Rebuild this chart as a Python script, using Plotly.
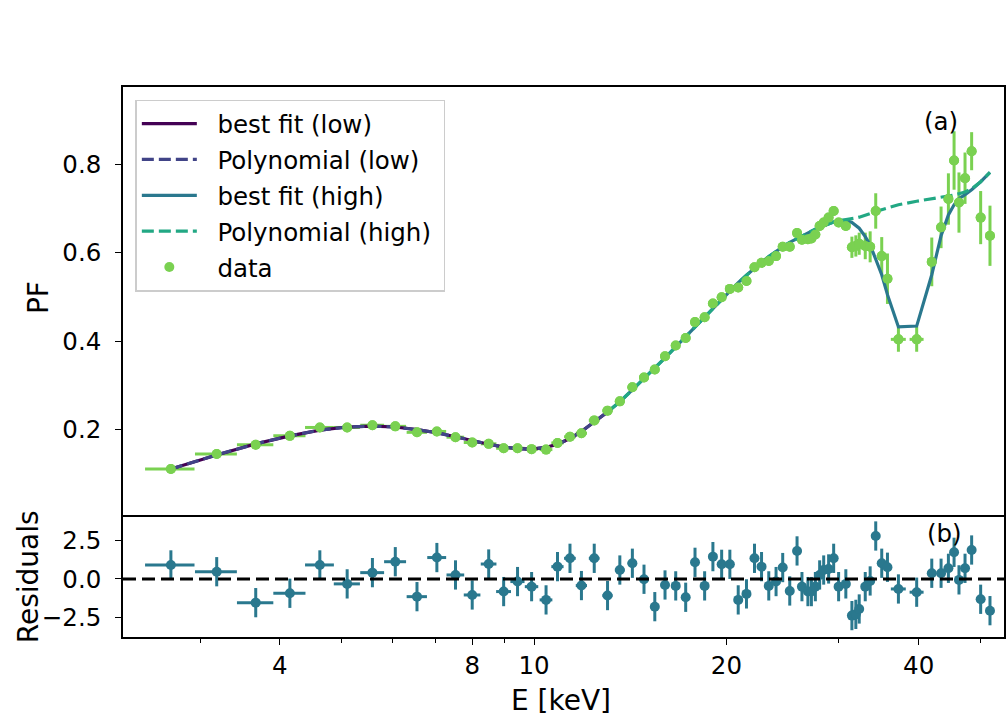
import plotly.graph_objects as go
from plotly.subplots import make_subplots

# ---------------- data ----------------
energy = [2.70, 3.185, 3.666, 4.146, 4.619, 5.097, 5.583, 6.063, 6.556, 7.043,
          7.532, 8.00, 8.49, 8.96, 9.42, 9.91, 10.44, 10.88, 11.38, 11.86,
          12.42, 13.03, 13.62, 14.25, 14.86, 15.45, 16.03, 16.66, 17.27, 17.86,
          18.49, 19.05, 19.66, 20.25, 20.87, 21.50, 22.13, 22.70, 23.30, 23.92,
          24.50, 25.13, 25.80, 26.26, 26.83, 27.17, 27.56, 27.99, 28.40, 28.91,
          29.44, 29.97, 30.76, 31.44, 31.89, 32.28, 32.99, 33.58, 34.26, 35.01,
          35.74, 37.18, 39.71, 41.93, 43.36, 44.52, 45.44, 46.25, 47.27, 48.41,
          50.01, 51.72]

energy_err = [0.24, 0.24, 0.24, 0.24, 0.24, 0.24, 0.24, 0.24, 0.24, 0.24,
              0.24, 0.24, 0.24, 0.24, 0.24, 0.24, 0.24, 0.24, 0.24, 0.24,
              0.24, 0.24, 0.24, 0.24, 0.24, 0.24, 0.24, 0.24, 0.24, 0.24,
              0.24, 0.24, 0.24, 0.24, 0.24, 0.24, 0.24, 0.24, 0.24, 0.24,
              0.24, 0.24, 0.24, 0.24, 0.24, 0.24, 0.24, 0.24, 0.24, 0.24,
              0.24, 0.24, 0.24, 0.24, 0.24, 0.24, 0.24, 0.24, 0.24, 0.24,
              0.24, 1.0, 1.0, 0.24, 0.24, 0.24, 0.24, 0.24, 0.24, 0.24,
              0.24, 0.24]

pf = [0.111, 0.145, 0.166, 0.186, 0.205, 0.205, 0.210, 0.2075, 0.194, 0.196,
      0.183, 0.171, 0.168, 0.158, 0.158, 0.156, 0.155, 0.170, 0.184, 0.192,
      0.221, 0.243, 0.264, 0.296, 0.318, 0.336, 0.366, 0.390, 0.407, 0.443,
      0.454, 0.485, 0.499, 0.518, 0.521, 0.536, 0.567, 0.577, 0.581, 0.592,
      0.613, 0.613, 0.644, 0.629, 0.630, 0.632, 0.641, 0.660, 0.668, 0.679,
      0.694, 0.668, 0.660, 0.612, 0.615, 0.620, 0.615, 0.613, 0.694, 0.592,
      0.541, 0.404, 0.404, 0.579, 0.657, 0.721, 0.808, 0.713, 0.768, 0.829,
      0.679, 0.638]

pf_err = [0.003, 0.003, 0.003, 0.003, 0.003, 0.003, 0.003, 0.003, 0.003, 0.003,
          0.003, 0.003, 0.003, 0.003, 0.003, 0.003, 0.003, 0.003, 0.003, 0.003,
          0.003, 0.003, 0.003, 0.003, 0.003, 0.003, 0.003, 0.003, 0.003, 0.003,
          0.005, 0.005, 0.005, 0.005, 0.005, 0.005, 0.005, 0.005, 0.005, 0.005,
          0.005, 0.005, 0.005, 0.005, 0.005, 0.008, 0.008, 0.008, 0.008, 0.008,
          0.008, 0.008, 0.008, 0.024, 0.024, 0.025, 0.030, 0.035, 0.040, 0.043,
          0.057, 0.028, 0.028, 0.055, 0.047, 0.058, 0.066, 0.068, 0.058, 0.043,
          0.060, 0.068]

residuals = [0.91, 0.47, -1.54, -0.93, 0.91, -0.32, 0.41, 1.12, -1.15, 1.39,
             0.26, -1.04, 0.97, -0.82, -0.17, -0.50, -1.36, 0.80, 1.34, -0.43,
             1.34, -1.08, 0.58, 1.02, -0.02, -1.80, -0.39, -0.45, -1.19, 1.08,
             -0.45, 1.45, 0.95, 0.95, -1.36, -0.97, 1.34, 0.80, -0.45, -0.17,
             0.74, -0.78, 1.82, -0.50, -0.82, -0.82, -0.50, 0.26, 0.58, 0.65,
             1.34, -0.50, -0.32, -2.38, -2.30, -1.95, -0.50, -0.13, 2.79, 1.02,
             0.76, -0.65, -0.86, 0.37, 0.37, 0.69, 1.73, -0.06, 0.69, 1.88,
             -1.32, -2.06]

resid_err = [0.95] * len(residuals)

# models (evaluated at the data energies)
n_low = 22          # low-energy model covers points 1..22
i_high = 21         # high-energy model covers points 22..72
best_low = [0.111, 0.143, 0.168, 0.186, 0.199, 0.206, 0.208, 0.206, 0.200, 0.193,
            0.184, 0.175, 0.167, 0.161, 0.157, 0.156, 0.160, 0.167, 0.180, 0.196,
            0.217, 0.240]
poly_low = [0.111, 0.143, 0.168, 0.186, 0.199, 0.206, 0.208, 0.206, 0.200, 0.193,
            0.184, 0.175, 0.167, 0.161, 0.157, 0.156, 0.160, 0.167, 0.180, 0.196,
            0.217, 0.240]
best_high = [0.240, 0.263, 0.290, 0.315, 0.338, 0.362, 0.387, 0.410, 0.432, 0.455,
             0.475, 0.495, 0.514, 0.532, 0.549, 0.565, 0.578, 0.591, 0.603, 0.613,
             0.623, 0.632, 0.638, 0.645, 0.649, 0.653, 0.657, 0.661, 0.665, 0.669,
             0.672, 0.673, 0.668, 0.662, 0.655, 0.636, 0.617, 0.585, 0.550, 0.505,
             0.432, 0.434, 0.550, 0.638, 0.685, 0.708, 0.722, 0.731, 0.742, 0.760,
             0.781]
poly_high = [0.240, 0.263, 0.290, 0.315, 0.338, 0.362, 0.387, 0.410, 0.432, 0.455,
             0.475, 0.495, 0.514, 0.532, 0.549, 0.565, 0.578, 0.591, 0.603, 0.613,
             0.623, 0.632, 0.638, 0.645, 0.649, 0.653, 0.657, 0.661, 0.665, 0.669,
             0.672, 0.674, 0.676, 0.678, 0.680, 0.684, 0.688, 0.693, 0.697, 0.701,
             0.708, 0.716, 0.721, 0.724, 0.727, 0.730, 0.733, 0.737, 0.744, 0.760,
             0.781]

series_names = ["best fit (low)", "Polynomial (low)", "best fit (high)",
                "Polynomial (high)", "data"]

x_tick_vals = [4, 8, 10, 20, 40]
x_tick_text = ["4", "8", "10", "20", "40"]
x_minor_vals = [3, 5, 6, 7, 9, 30, 50]
pf_tick_vals = [0.2, 0.4, 0.6, 0.8]
pf_tick_text = ["0.2", "0.4", "0.6", "0.8"]
res_tick_vals = [-2.5, 0.0, 2.5]
res_tick_text = ["\u22122.5", "0.0", "2.5"]

# ---------------- styling ----------------
C_LOW = "#440154"
C_PLOW = "#414487"
C_HIGH = "#2a788e"
C_PHIGH = "#22a884"
C_DATA = "#7ad151"
FONT = "DejaVu Sans"
FS = 24.5
FS_LABEL = 28
PAD = "\u00a0\u00a0"   # gap between legend handle and label


def lname(s):
    return PAD + s + "\u00a0"


fig = make_subplots(rows=2, cols=1, shared_xaxes=True, vertical_spacing=0,
                    row_heights=[0.778, 0.222])

# data error bars (drawn below model curves)
fig.add_trace(go.Scatter(
    x=energy, y=pf, mode="markers",
    marker=dict(color=C_DATA, size=10),
    error_x=dict(type="data", array=energy_err, color=C_DATA, thickness=3, width=0),
    error_y=dict(type="data", array=pf_err, color=C_DATA, thickness=3, width=0),
    showlegend=False, hoverinfo="skip"), row=1, col=1)

fig.add_trace(go.Scatter(x=energy[:n_low], y=best_low, mode="lines", name=lname(series_names[0]),
                         line=dict(color=C_LOW, width=3.2), legendgroup="a"), row=1, col=1)
fig.add_trace(go.Scatter(x=energy[:n_low], y=poly_low, mode="lines", name=lname(series_names[1]),
                         line=dict(color=C_PLOW, width=3.2, dash="12px,5px"), legendgroup="b"), row=1, col=1)
fig.add_trace(go.Scatter(x=energy[i_high:], y=best_high, mode="lines", name=lname(series_names[2]),
                         line=dict(color=C_HIGH, width=3.2), legendgroup="c"), row=1, col=1)
fig.add_trace(go.Scatter(x=energy[i_high:], y=poly_high, mode="lines", name=lname(series_names[3]),
                         line=dict(color=C_PHIGH, width=3.2, dash="12px,5px"), legendgroup="d"), row=1, col=1)

# data markers on top
fig.add_trace(go.Scatter(x=energy, y=pf, mode="markers", name=lname(series_names[4]),
                         marker=dict(color=C_DATA, size=10, symbol="circle"),
                         legendgroup="e"), row=1, col=1)

# residuals
fig.add_trace(go.Scatter(
    x=energy, y=residuals, mode="markers",
    marker=dict(color=C_HIGH, size=10),
    error_x=dict(type="data", array=energy_err, color=C_HIGH, thickness=3, width=0),
    error_y=dict(type="data", array=resid_err, color=C_HIGH, thickness=3, width=0),
    showlegend=False), row=2, col=1)

fig.add_hline(y=0, row=2, col=1, line=dict(color="black", width=3, dash="13px,6px"))

axis_common = dict(showline=True, linecolor="black", linewidth=1.6,
                   showgrid=False, zeroline=False,
                   tickfont=dict(family=FONT, size=FS, color="black"))

fig.update_xaxes(type="log", range=[0.3564, 1.7356], **axis_common)
fig.update_xaxes(row=1, col=1, showticklabels=False, ticks="", mirror=True)
fig.update_xaxes(row=2, col=1, mirror=False, tickmode="array", tickvals=x_tick_vals,
                 ticktext=x_tick_text,
                 ticks="outside", ticklen=6, tickwidth=1.4, tickcolor="black",
                 minor=dict(tickmode="array", tickvals=x_minor_vals, ticks="outside",
                            ticklen=4, tickwidth=1.2, tickcolor="black"))
fig.update_yaxes(row=1, col=1, range=[0.0075, 0.974], tickmode="array",
                 tickvals=pf_tick_vals, ticktext=pf_tick_text, mirror=True,
                 ticklabelstandoff=9,
                 ticks="outside", ticklen=6, tickwidth=1.4, tickcolor="black", **axis_common)
fig.update_yaxes(row=2, col=1, range=[-3.77, 4.16], tickmode="array",
                 tickvals=res_tick_vals, ticktext=res_tick_text, mirror=True,
                 ticklabelstandoff=9,
                 ticks="outside", ticklen=6, tickwidth=1.4, tickcolor="black", **axis_common)

annotations = [
    dict(text="PF", xref="paper", yref="paper", x=-0.096, y=0.617, textangle=-90,
         showarrow=False, xanchor="center", yanchor="middle",
         font=dict(family=FONT, size=FS_LABEL, color="black")),
    dict(text="Residuals", xref="paper", yref="paper", x=-0.107, y=0.11, textangle=-90,
         showarrow=False, xanchor="center", yanchor="middle",
         font=dict(family=FONT, size=FS_LABEL, color="black")),
    dict(text="E [keV]", xref="paper", yref="paper", x=0.4975, y=-0.115,
         showarrow=False, xanchor="center", yanchor="middle",
         font=dict(family=FONT, size=FS_LABEL, color="black")),
    dict(text="(a)", xref="paper", yref="paper", x=0.929, y=0.938,
         showarrow=False, xanchor="center", yanchor="middle",
         font=dict(family=FONT, size=FS, color="black")),
    dict(text="(b)", xref="paper", yref="paper", x=0.932, y=0.189,
         showarrow=False, xanchor="center", yanchor="middle",
         font=dict(family=FONT, size=FS, color="black")),
]

fig.update_layout(
    width=1008, height=718,
    margin=dict(l=123, r=2, t=87, b=81),
    paper_bgcolor="white", plot_bgcolor="white",
    font=dict(family=FONT, size=FS, color="black"),
    annotations=annotations,
    showlegend=True,
    legend=dict(x=0.014, y=0.977, xanchor="left", yanchor="top",
                bgcolor="rgba(255,255,255,0.9)", bordercolor="#cccccc", borderwidth=1.5,
                font=dict(family=FONT, size=FS, color="black"),
                traceorder="grouped", tracegroupgap=1, itemwidth=55),
)

fig.write_html("out.html")
